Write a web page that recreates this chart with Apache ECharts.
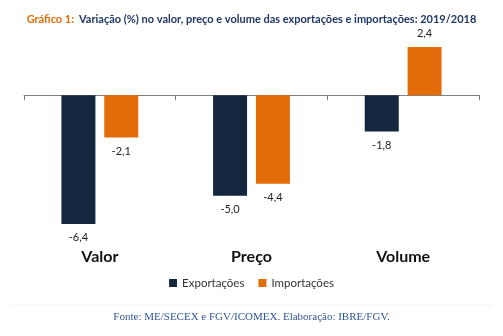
<!DOCTYPE html>
<html><head><meta charset="utf-8">
<script src="https://cdn.jsdelivr.net/npm/echarts@6/dist/echarts.min.js"></script>
<style>html,body{margin:0;padding:0;background:#fff}#c{width:503px;height:336px}</style>
</head><body><div id="c"></div>
<script>
const categories = ['Valor', 'Preço', 'Volume'];
const exportacoes = [-6.4, -5.0, -1.8];
const importacoes = [-2.1, -4.4, 2.4];
const seriesNames = ['Exportações', 'Importações'];

const chart = echarts.init(document.getElementById('c'));
const fmt = p => p.value.toFixed(1).replace('.', ',');
const lbl = v => ({ value: v, label: { position: v < 0 ? 'bottom' : 'top' } });
chart.setOption({
  animation: false,
  title: {
    left: 'center', top: 5,
    text: '{o|Gráfico 1:} {n|Variação (%) no valor, preço e volume das exportações e importações: 2019/2018}',
    textStyle: { rich: {
      o: { color: '#E36C0A', fontWeight: 'bold', fontSize: 11, fontFamily: 'Lato' },
      n: { color: '#1F3864', fontWeight: 'bold', fontSize: 11, fontFamily: 'Lato' }
    } }
  },
  grid: { left: 24, right: 24, top: 47, bottom: 112 },
  legend: {
    bottom: 42, itemWidth: 8, itemHeight: 8, itemGap: 14, icon: 'rect',
    textStyle: { fontSize: 11.5, color: '#333', fontFamily: 'Lato' },
    data: seriesNames
  },
  xAxis: [{
    type: 'category', data: categories, position: 'bottom',
    axisLine: { onZero: true, lineStyle: { color: '#808080' } },
    axisTick: { show: true, length: 5, lineStyle: { color: '#808080' } },
    axisLabel: { show: false }
  }, {
    type: 'category', data: categories, position: 'bottom',
    axisLine: { show: false, onZero: false }, axisTick: { show: false },
    axisLabel: { margin: 25, fontSize: 16, fontWeight: 'bold', color: '#111', fontFamily: 'Lato' }
  }],
  yAxis: { type: 'value', min: -6.4, max: 2.4, show: false, splitLine: { show: false } },
  series: [{
    name: seriesNames[0], type: 'bar', data: exportacoes.map(lbl), barWidth: 34, barGap: '26%',
    itemStyle: { color: '#14273F' },
    label: { show: true, formatter: fmt, distance: 8, fontSize: 11, color: '#222', fontFamily: 'Lato' }
  }, {
    name: seriesNames[1], type: 'bar', data: importacoes.map(lbl), barWidth: 34,
    itemStyle: { color: '#E36C0A' },
    label: { show: true, formatter: fmt, distance: 8, fontSize: 11, color: '#222', fontFamily: 'Lato' }
  }],
  graphic: [
    { type: 'line', shape: { x1: 10, y1: 305, x2: 493, y2: 305 }, style: { stroke: '#f2f2f2', lineWidth: 1 } },
    { type: 'text', left: 'center', top: 312, style: { text: 'Fonte: ME/SECEX e FGV/ICOMEX. Elaboração: IBRE/FGV.', fill: '#2F5597', font: '11px "Liberation Serif"' } }
  ]
});
</script></body></html>
